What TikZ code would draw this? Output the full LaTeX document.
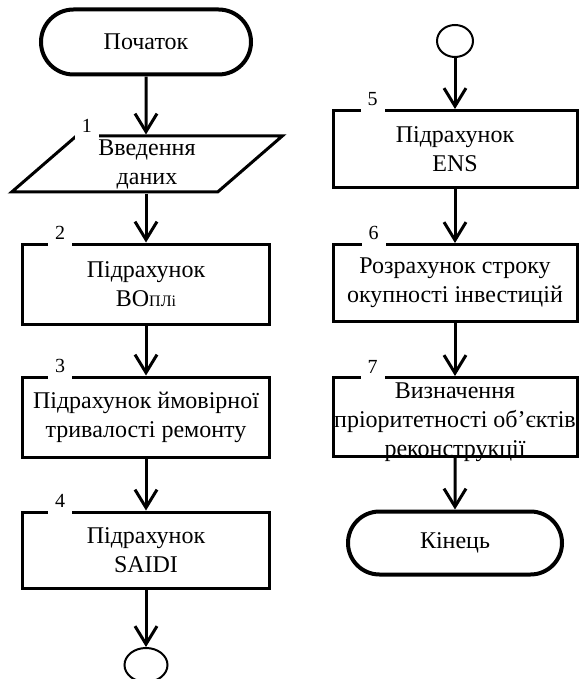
\documentclass[tikz,border=0pt]{standalone}
\usepackage{fontspec}
\setmainfont{Liberation Serif}
\usetikzlibrary{arrows.meta,shapes.geometric,shapes.misc}
\tikzstyle{myflowchartstyle}=[
    x=0.5pt, y=-0.5pt,
    >={Straight Barb[length=9pt,width=11pt]},
    line width=1.5pt,
    font=\fontsize{12}{14.5}\selectfont,
    every node/.style={align=center},
]
\tikzstyle{terminal}=[draw, rounded rectangle, line width=2pt,
    minimum width=105pt, minimum height=32.5pt, inner sep=0pt]
\tikzstyle{databox}=[draw, trapezium, trapezium left angle=48,
    trapezium right angle=132, trapezium stretches=true,
    minimum width=136pt, minimum height=28pt, inner sep=0pt]
\tikzstyle{procbox}=[draw, rectangle, minimum width=123.5pt,
    minimum height=40pt, inner sep=0pt]
\tikzstyle{connector}=[draw, ellipse, line width=1pt,
    minimum width=21.5pt, minimum height=17pt, inner sep=0pt]
\tikzstyle{numlbl}=[fill=white, anchor=base, inner xsep=3.5pt,
    inner ysep=3.5pt, font=\fontsize{10}{12}\selectfont]

\begin{document}
\begin{tikzpicture}[myflowchartstyle]
        \useasboundingbox (0,0) rectangle (579,679);
        % left column
        \node (start) at (146, 42) [terminal] {Початок};
        \node (par) at (147, 164) [databox] {Введення\\даних};
        \node (b2) at (146, 284) [procbox] {Підрахунок\\ВО{\fontsize{8}{8}\selectfont ПЛі}};
        \node (b3) at (146, 417) [procbox] {Підрахунок ймовірної\\тривалості ремонту};
        \node (b4) at (146, 550) [procbox, minimum height=38pt] {Підрахунок\\SAIDI};
        \node (c1) at (146, 665) [connector] {};
        % right column
        \node (c2) at (455, 41) [connector, minimum width=18pt, minimum height=16pt] {};
        \node (b5) at (455, 149) [procbox, minimum width=122pt, minimum height=38.5pt] {Підрахунок\\ENS};
        \node (b6) at (455, 283) [procbox, minimum width=122pt, minimum height=38.5pt] {Розрахунок строку\\окупності інвестицій};
        \node (b7) at (455, 417) [procbox, minimum width=122pt, minimum height=39.5pt] {};
        \node (t7) at (455, 422) {Визначення\\пріоритетності об’єктів\\реконструкції};
        \node (stop) at (455, 543) [terminal, minimum width=107pt, minimum height=31.5pt] {Кінець};
        % numbers
        \node at ([xshift=5.5pt, yshift=1pt]par.top left corner) [numlbl] {1};
        \node at ([xshift=19.5pt, yshift=1.5pt]b2.north west) [numlbl] {2};
        \node at ([xshift=19.5pt, yshift=1.5pt]b3.north west) [numlbl] {3};
        \node at ([xshift=19.5pt, yshift=1.5pt]b4.north west) [numlbl] {4};
        \node at ([xshift=20.5pt, yshift=1.5pt]b5.north west) [numlbl] {5};
        \node at ([xshift=21pt, yshift=1.5pt]b6.north west) [numlbl] {6};
        \node at ([xshift=20.5pt, yshift=1.5pt]b7.north west) [numlbl] {7};
        % arrows
        \draw[->] (start) -- (start |- par.north);
        \draw[->] (start |- par.south) -- (b2);
        \draw[->] (b2) -- (b3);
        \draw[->] (b3) -- (b4);
        \draw[->] (b4) -- (c1);
        \draw[->] (c2) -- (b5);
        \draw[->] (b5) -- (b6);
        \draw[->] (b6) -- (b7);
        \draw[->] (b7) -- (stop);
    \end{tikzpicture}
\end{document}
